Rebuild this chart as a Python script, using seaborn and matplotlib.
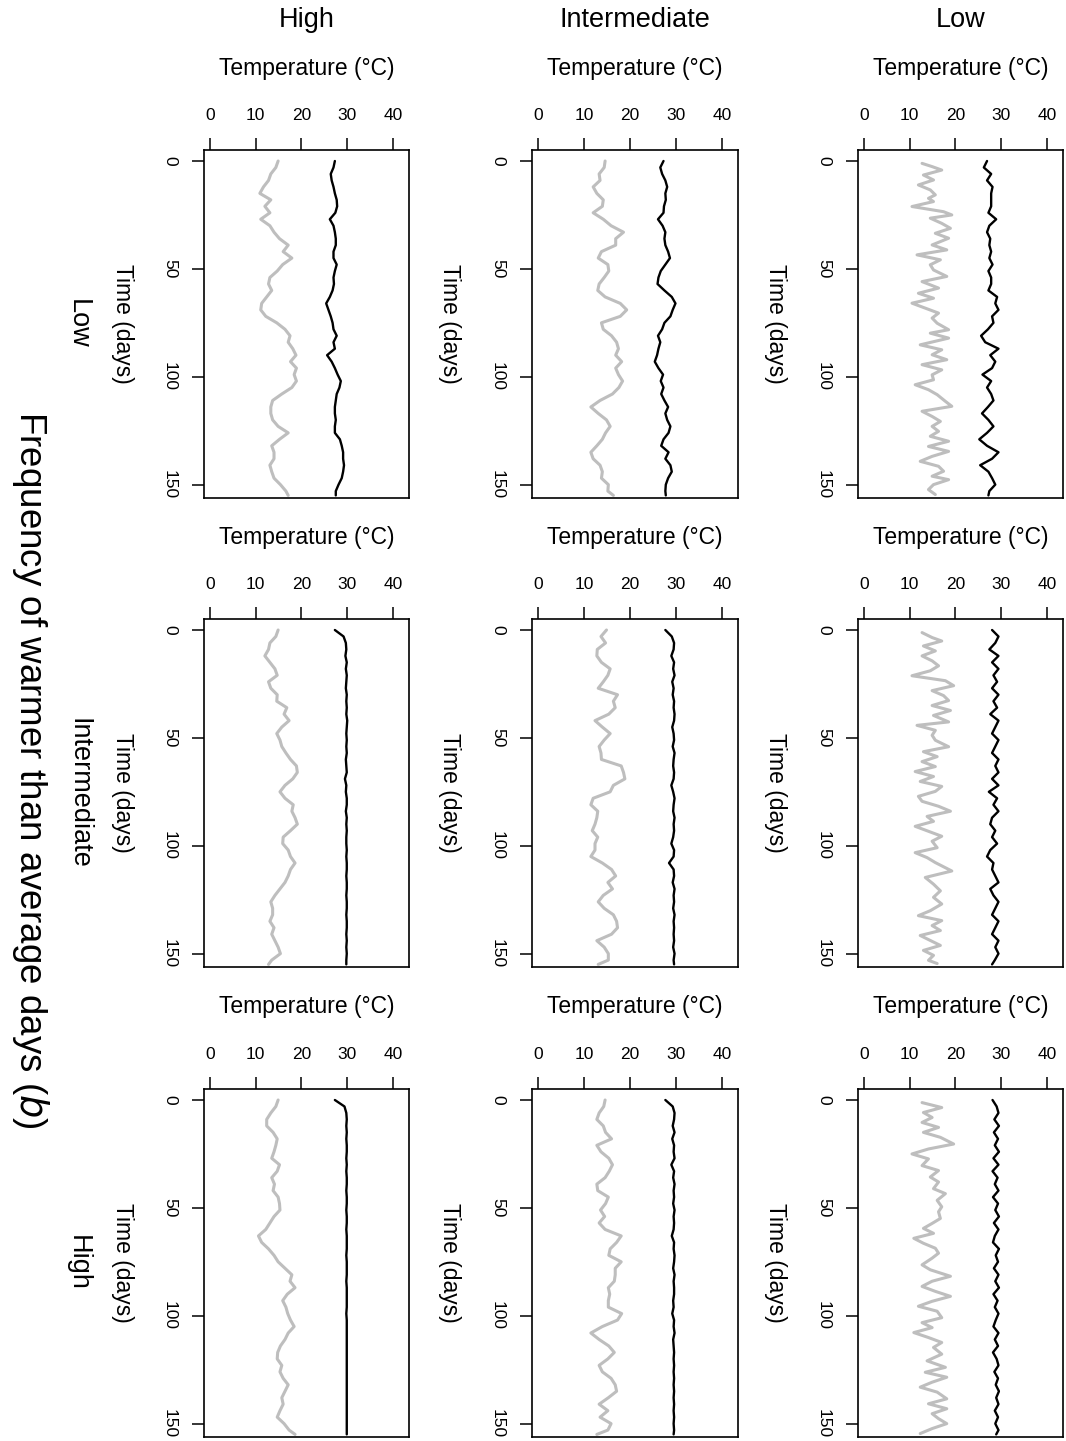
import matplotlib
matplotlib.use("Agg")
import matplotlib.pyplot as plt
import numpy as np
import pandas as pd
import seaborn as sns

# ---------------- data ----------------
days = [0, 3, 6, 9, 12, 15, 18, 21, 24, 27, 30, 33, 36, 39, 42, 45, 48, 51, 54, 57,
        60, 63, 66, 69, 72, 75, 78, 81, 84, 87, 90, 93, 96, 99, 102, 105, 108, 111,
        114, 117, 120, 123, 126, 129, 132, 135, 138, 141, 144, 147, 150, 153, 155]

col_labels = ["High", "Intermediate", "Low"]
row_labels = ["Low", "Intermediate", "High"]
xticks = [0, 10, 20, 30, 40]
yticks = [0, 50, 100, 150]

# row: Low frequency of warmer days
gray_low_high = [14.9,14.4,13.3,12.8,11.7,10.9,13.3,12.0,13.1,11.1,13.1,14.0,15.2,17.1,16.0,17.9,15.9,14.7,13.1,12.8,13.5,12.4,11.3,11.1,12.2,14.6,16.4,17.5,17.1,18.1,18.8,17.6,18.9,18.4,18.9,17.9,15.7,13.7,13.3,13.3,13.7,14.9,17.1,15.2,13.5,14.0,14.0,13.1,13.5,14.0,15.4,16.6,17.1]
black_low_high = [27.3,27.0,26.4,26.6,27.0,27.3,27.7,27.8,27.4,26.2,27.0,27.3,27.5,27.5,27.0,27.0,27.7,27.3,27.0,27.1,26.8,26.2,25.4,25.9,26.4,26.8,27.0,27.7,27.0,27.3,25.6,26.6,27.3,27.9,28.6,28.3,27.7,27.5,27.3,27.3,27.5,27.3,27.3,28.4,28.8,29.1,29.1,29.3,29.1,28.8,28.1,27.5,27.5]
gray_low_int = [14.6,14.4,13.3,13.5,12.0,12.8,14.2,14.0,12.0,14.2,15.9,18.6,16.9,16.9,13.8,13.1,15.2,15.4,14.4,13.3,13.0,14.6,17.9,19.3,17.9,13.8,14.2,16.0,17.1,17.5,16.9,18.2,16.9,17.5,18.4,17.6,16.2,13.5,11.5,13.1,14.9,15.7,14.7,14.0,12.8,11.5,12.0,13.5,14.0,13.8,15.3,15.2,16.4]
black_low_int = [27.3,26.6,27.0,27.7,28.1,27.7,27.8,27.4,27.3,26.1,27.1,27.7,27.5,27.7,28.3,28.7,27.7,26.7,26.2,26.0,27.5,29.1,29.9,29.3,28.8,27.5,27.0,26.1,26.6,26.2,25.9,25.4,26.2,27.2,26.7,27.3,26.8,27.5,28.3,27.7,28.1,28.8,28.4,27.3,26.8,28.4,27.7,28.8,29.1,28.3,27.8,27.7,27.8]
gray_low_low_days = [1.1,2.6,4.2,6.5,8.8,11.1,13.4,15.7,17.3,18.8,21.1,23.5,25.0,26.5,28.9,31.2,33.5,35.8,38.9,41.2,43.5,45.8,48.1,50.5,53.5,55.9,58.9,61.3,63.6,65.9,68.2,70.5,72.8,75.2,78.2,79.8,82.1,85.2,87.5,89.8,92.1,94.4,96.8,99.1,101.4,103.7,106.0,108.3,111.4,113.7,116.0,118.4,120.7,123.0,125.3,127.6,129.9,132.3,134.6,136.9,139.2,141.5,143.8,146.1,147.7,150.0,152.3,154.6]
gray_low_low = [12.7,14.9,17.0,13.0,15.2,11.9,14.5,15.6,14.1,15.2,10.5,17.4,19.2,14.5,17.0,18.9,15.6,18.5,14.9,18.1,11.6,16.7,14.5,15.2,18.1,12.7,16.3,11.9,15.2,10.5,13.4,16.3,14.9,16.0,18.5,14.5,18.5,12.3,17.0,14.9,18.1,12.7,17.0,14.9,15.2,11.2,14.1,16.0,17.8,19.2,12.7,14.9,16.7,14.9,16.3,14.5,18.5,14.1,18.5,14.9,12.3,16.3,17.4,14.9,18.5,15.2,14.1,15.6]
black_low_low = [26.9,26.2,27.8,26.9,28.1,27.8,27.8,27.8,27.2,28.9,27.4,26.9,27.6,27.4,27.8,27.4,28.1,27.2,27.8,27.8,27.2,29.1,28.7,29.4,28.0,28.3,27.1,25.6,26.5,29.4,27.6,28.7,28.0,25.9,27.8,26.9,27.8,28.3,27.1,25.8,27.2,28.3,26.9,25.2,26.9,29.4,28.0,25.4,27.2,28.0,28.7,27.4,27.2]

# row: Intermediate frequency
gray_int_high = [14.9,14.4,13.1,12.8,12.0,13.1,14.2,14.7,12.8,13.3,14.7,14.6,16.8,16.2,17.3,15.7,14.6,15.3,15.7,16.6,17.6,18.9,19.1,18.1,16.4,15.3,16.4,18.2,17.9,18.6,19.1,17.6,16.0,15.9,17.1,17.6,18.6,17.6,17.1,16.4,15.3,14.2,13.3,13.7,13.7,13.1,14.0,13.5,14.2,14.9,15.4,13.5,12.8]
black_int_high = [27.3,29.2,29.7,29.8,29.6,29.9,29.7,29.9,29.8,29.7,29.9,29.8,29.9,29.8,30.0,29.9,29.8,29.9,29.8,29.9,29.7,29.8,29.9,29.5,29.8,29.7,29.9,29.9,29.7,29.9,29.8,29.9,29.8,29.8,29.9,29.8,29.9,29.9,29.8,29.9,29.9,29.8,29.9,29.9,29.8,29.9,29.9,29.8,29.9,29.8,29.9,29.8,29.8]
gray_int_int = [14.9,13.7,14.7,12.9,12.8,13.8,15.7,15.2,14.2,13.1,17.3,16.4,16.8,15.4,12.4,14.0,15.7,14.4,13.3,13.7,13.8,18.1,18.6,18.9,16.4,15.7,12.0,11.5,13.0,12.8,12.4,11.8,13.0,12.4,12.4,11.5,14.0,16.0,16.9,15.2,16.2,14.2,13.1,14.4,16.4,17.1,17.3,16.0,12.8,14.4,15.3,15.3,13.1]
black_int_int = [27.7,29.1,29.6,29.5,29.0,29.6,29.4,29.7,29.2,29.5,29.3,29.6,29.5,29.7,29.6,29.2,29.5,29.6,29.3,29.7,29.5,29.4,29.6,29.5,29.0,29.4,29.7,29.5,29.4,29.7,29.5,29.6,29.4,29.0,29.6,29.5,28.5,29.5,29.6,29.3,29.7,29.5,29.6,29.4,29.7,29.5,29.6,29.5,29.6,29.4,29.7,29.5,29.6]
gray_int_low_days = [1.2,3.5,5.1,7.4,9.7,12.0,14.3,16.6,18.9,21.2,23.5,25.8,28.1,30.4,32.7,35.0,37.3,39.6,42.6,44.2,46.5,48.8,51.1,54.1,56.4,58.7,61.0,63.3,65.6,67.9,70.2,72.5,74.8,77.1,79.4,81.7,84.0,86.4,88.7,91.0,93.3,95.6,97.9,100.9,103.2,105.5,107.8,111.7,114.7,117.8,120.9,123.9,127.0,130.1,132.4,134.7,137.0,139.3,141.6,143.9,146.2,148.5,150.8,153.1,154.6]
gray_int_low = [12.7,14.9,17.0,13.0,15.6,12.7,14.9,16.3,14.5,10.5,17.8,19.6,14.9,17.4,18.5,14.9,18.9,15.2,18.5,11.6,15.6,14.9,15.6,18.5,13.0,16.0,12.7,15.6,11.2,15.2,12.3,17.0,15.6,11.9,12.7,16.3,18.9,13.8,15.2,11.2,14.1,17.0,14.9,16.0,11.2,13.8,15.6,19.2,13.4,15.2,16.7,15.2,17.0,14.5,11.9,17.0,14.9,16.7,12.3,14.5,16.7,13.0,15.2,14.1,16.0]
black_int_low = [28.0,29.4,28.7,27.4,29.4,28.0,29.4,28.3,29.1,28.0,29.4,28.3,29.1,27.6,29.4,28.7,28.0,29.4,28.7,28.0,29.4,28.7,29.4,28.0,29.4,27.3,29.1,28.3,29.4,28.0,27.6,28.7,28.0,29.1,27.6,26.9,28.3,28.0,28.7,29.4,27.6,28.3,29.4,28.7,28.0,29.4,28.7,28.0,29.4,28.7,29.4,28.6,28.0]

# row: High frequency
gray_high_high = [14.9,14.4,13.3,12.4,12.4,13.8,14.7,14.4,14.0,13.5,15.2,14.7,13.5,14.1,13.8,14.9,15.2,15.3,14.0,13.1,12.2,10.6,11.3,12.8,14.0,14.9,16.4,17.9,17.5,18.6,16.9,15.9,16.6,17.0,17.6,18.4,17.1,16.4,15.4,14.8,14.7,15.7,15.3,16.0,17.1,16.4,15.7,16.0,15.3,14.7,16.2,17.3,18.6]
black_high_high = [27.3,29.4,29.8,29.9,29.8,29.9,29.8,29.9,29.9,29.8,29.9,29.8,29.9,29.9,29.8,29.9,29.9,29.8,29.9,29.9,29.8,29.9,29.9,29.9,29.8,29.9,29.9,29.9,29.8,29.9,29.9,29.9,29.9,29.8,29.9,29.9,29.9,29.9,29.9,29.9,29.9,29.9,29.9,29.9,29.9,29.9,29.9,29.9,29.9,29.9,29.9,29.9,29.9]
gray_high_int = [14.6,14.3,13.3,12.8,14.2,14.7,16.0,12.8,13.7,15.4,16.2,15.5,14.6,12.8,13.0,15.3,14.7,13.6,14.5,13.3,14.6,18.1,17.1,15.7,15.4,18.1,16.8,16.8,16.6,15.3,15.6,15.3,15.3,18.2,17.3,14.0,11.5,13.3,15.4,16.6,15.2,13.3,14.0,15.9,16.8,17.1,15.3,13.3,15.2,13.5,15.9,15.2,12.8]
black_high_int = [27.7,29.3,29.7,29.6,29.3,29.7,29.2,29.6,29.5,29.7,29.0,29.6,29.4,29.7,29.5,29.6,29.4,29.7,29.5,29.6,29.5,29.1,29.6,29.5,29.7,29.6,29.4,29.7,29.5,29.6,29.6,29.4,29.5,29.2,29.6,29.5,29.7,29.4,29.5,29.6,29.5,29.6,29.5,29.6,29.5,29.6,29.5,29.6,29.5,29.6,29.5,29.6,29.5]
gray_high_low_days = [1.2,3.5,5.8,8.1,10.4,12.7,15.0,17.3,20.4,22.7,25.0,27.3,30.4,32.7,35.7,38.0,41.1,43.4,46.5,49.5,51.8,54.9,57.2,59.5,61.8,64.1,66.4,68.7,71.0,73.3,76.4,78.7,81.7,84.0,86.4,88.7,91.0,93.3,95.6,97.9,100.9,103.2,105.5,107.8,110.1,112.4,114.7,117.8,120.9,123.9,126.2,128.5,130.8,133.1,135.4,138.5,140.8,143.1,145.4,147.7,150.0,152.3,154.6]
gray_high_low = [12.7,17.0,13.0,14.9,12.7,16.3,13.0,16.7,19.6,14.1,10.5,14.1,12.7,16.3,14.5,16.3,15.2,17.8,16.0,17.0,16.3,16.7,14.9,13.0,15.2,10.9,13.0,15.6,16.3,14.9,12.7,14.5,18.9,14.9,12.7,15.6,18.9,14.9,11.9,16.0,17.0,12.7,14.9,10.9,14.1,17.0,15.2,17.0,13.8,17.8,13.4,18.1,14.9,12.3,16.0,18.1,14.1,18.1,14.9,16.3,18.1,14.9,12.3]
black_high_low = [28.1,29.0,29.4,28.5,29.5,28.4,29.3,28.6,29.5,28.3,29.4,28.1,29.2,28.6,29.4,28.2,29.3,28.7,29.5,28.4,29.4,28.6,28.2,29.5,28.8,29.3,28.4,29.4,28.7,29.5,28.3,29.2,28.6,29.4,28.8,28.3,29.4,28.6,29.3,28.2,29.0,29.4,28.5,29.3,28.8,29.5,28.9,29.4,28.6,29.3,28.7,29.4,28.9]

panels = [
    [(days, gray_low_high, days, black_low_high),
     (days, gray_low_int, days, black_low_int),
     (gray_low_low_days, gray_low_low, days, black_low_low)],
    [(days, gray_int_high, days, black_int_high),
     (days, gray_int_int, days, black_int_int),
     (gray_int_low_days, gray_int_low, days, black_int_low)],
    [(days, gray_high_high, days, black_high_high),
     (days, gray_high_int, days, black_high_int),
     (gray_high_low_days, gray_high_low, days, black_high_low)],
]

# ---------------- style ----------------
sns.set_style("white")
plt.rcParams['font.family'] = ['Liberation Sans', 'DejaVu Sans']
plt.rcParams['text.color'] = 'black'
plt.rcParams['axes.labelcolor'] = 'black'
plt.rcParams['xtick.color'] = 'black'
plt.rcParams['ytick.color'] = 'black'

W, H = 1066, 1441
fig = plt.figure(figsize=(W / 100, H / 100), dpi=100)

col_left = [204, 532, 858]
col_right = [409, 738, 1063]
row_top = [150, 619, 1089]
row_bottom = [498, 967, 1437]

GRAY = "#BEBEBE"


def fx(px):
    return px / W


def fy(py):
    return 1 - py / H


def frame(d, v):
    n = min(len(d), len(v))
    return pd.DataFrame({"temp": v[:n], "day": d[:n]})


for r in range(3):
    for c in range(3):
        l, rr = col_left[c], col_right[c]
        t, b = row_top[r], row_bottom[r]
        ax = fig.add_axes([fx(l), fy(b), (rr - l) / W, (b - t) / H])
        gd, gv, kd, kv = panels[r][c]
        sns.lineplot(data=frame(gd, gv), x="temp", y="day", orient="y", sort=False,
                     estimator=None, color=GRAY, lw=2.2, ax=ax, legend=False)
        sns.lineplot(data=frame(kd, kv), x="temp", y="day", orient="y", sort=False,
                     estimator=None, color="black", lw=1.7, ax=ax, legend=False)
        ax.set_xlim(-1.3, 43.5)
        ax.set_ylim(156.2, -5.1)
        ax.set_xlabel("")
        ax.set_ylabel("")
        ax.xaxis.tick_top()
        ax.set_xticks(xticks)
        ax.set_xticklabels([str(v) for v in xticks])
        ax.set_yticks(yticks)
        ax.set_yticklabels([str(v) for v in yticks])
        ax.tick_params(axis="both", direction="out", length=8.5, width=1.1,
                       color="black", labelsize=12.5, labelcolor="black")
        ax.tick_params(axis="x", pad=11, top=True, bottom=False)
        ax.tick_params(axis="y", pad=11, labelrotation=-90, left=True)
        for lab in ax.get_yticklabels():
            lab.set_va("center")
            lab.set_ha("right")
        for sp in ax.spines.values():
            sp.set_visible(True)
            sp.set_color("black")
            sp.set_linewidth(1.2)

        xc = (l + rr) / 2
        yc = (t + b) / 2
        fig.text(fx(xc), fy(t - 82), "Temperature (°C)", ha="center", va="center",
                 fontsize=16.5, color="black")
        fig.text(fx(l - 82), fy(yc), "Time (days)", ha="center", va="center",
                 rotation=-90, fontsize=16.5, color="black")

for c in range(3):
    xc = (col_left[c] + col_right[c]) / 2
    fig.text(fx(xc), fy(20), col_labels[c], ha="center", va="center",
             fontsize=19.5, color="black")

for r in range(3):
    yc = (row_top[r] + row_bottom[r]) / 2
    fig.text(fx(78), fy(yc), row_labels[r], ha="center", va="center",
             rotation=-90, fontsize=19.5, color="black")

fig.text(fx(30), fy(770), r"Frequency of warmer than average days ($\it{b}$)",
         ha="center", va="center", rotation=-90, fontsize=26.5, color="black")

fig.savefig("out.png", dpi=100)
